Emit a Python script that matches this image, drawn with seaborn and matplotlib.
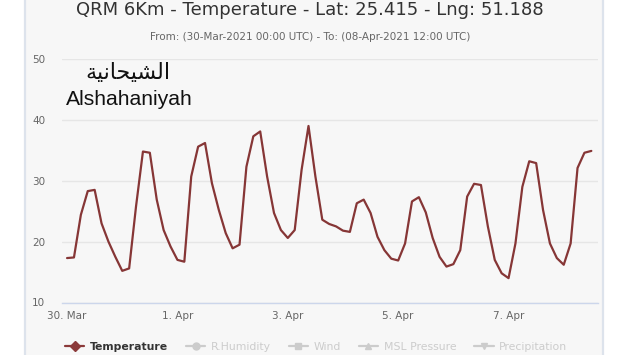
import numpy as np
import pandas as pd
import matplotlib
matplotlib.use("Agg")
import matplotlib.pyplot as plt
import matplotlib.dates as mdates
from matplotlib.lines import Line2D
from matplotlib.patches import Rectangle
import seaborn as sns

# ---------------- data ----------------
start_time = "2021-03-30 00:00"
step = "3h"
temperature = [
    17.3, 17.4, 24.4, 28.3, 28.5, 23.0, 20.0, 17.5, 15.2, 15.6,
    25.8, 34.8, 34.6, 26.9, 21.9, 19.2, 17.0, 16.7, 30.7, 35.6,
    36.2, 29.6, 25.2, 21.4, 18.9, 19.5, 32.3, 37.3, 38.1, 30.7,
    24.7, 21.9, 20.6, 21.9, 31.8, 39.0, 30.7, 23.6, 22.9, 22.5,
    21.8, 21.6, 26.3, 26.9, 24.7, 20.8, 18.6, 17.2, 16.9, 19.7,
    26.6, 27.3, 24.8, 20.6, 17.5, 15.9, 16.3, 18.6, 27.4, 29.5,
    29.3, 22.5, 17.0, 14.8, 14.0, 19.7, 29.0, 33.2, 32.9, 25.2,
    19.7, 17.3, 16.2, 19.7, 32.1, 34.6, 34.9,
]
tick_dates = ["2021-03-30", "2021-04-01", "2021-04-03", "2021-04-05", "2021-04-07"]
tick_labels = ["30. Mar", "1. Apr", "3. Apr", "5. Apr", "7. Apr"]
y_ticks = [10, 20, 30, 40, 50]
legend_names = ["Temperature", "R.Humidity", "Wind", "MSL Pressure", "Precipitation"]
title = "QRM 6Km - Temperature - Lat: 25.415 - Lng: 51.188"
subtitle = "From: (30-Mar-2021 00:00 UTC) - To: (08-Apr-2021 12:00 UTC)"
place_ar = "الشيحانية"
place_en = "Alshahaniyah"

times = pd.date_range(start_time, periods=len(temperature), freq=step)
df = pd.DataFrame({"time": times, "temperature": temperature})

# --------- simple Arabic shaping (matplotlib has no complex text layout) ---------
_forms = {  # isolated, final, initial, medial
    "ا": ("\uFE8D", "\uFE8E", None, None),
    "ل": ("\uFEDD", "\uFEDE", "\uFEDF", "\uFEE0"),
    "ش": ("\uFEB5", "\uFEB6", "\uFEB7", "\uFEB8"),
    "ي": ("\uFEF1", "\uFEF2", "\uFEF3", "\uFEF4"),
    "ح": ("\uFEA1", "\uFEA2", "\uFEA3", "\uFEA4"),
    "ن": ("\uFEE5", "\uFEE6", "\uFEE7", "\uFEE8"),
    "ة": ("\uFE93", "\uFE94", None, None),
}


def shape_arabic(word):
    out = []
    n = len(word)
    for i, ch in enumerate(word):
        f = _forms.get(ch)
        if f is None:
            out.append(ch)
            continue
        join_prev = i > 0 and word[i - 1] in _forms and _forms[word[i - 1]][2] is not None
        join_next = i < n - 1 and f[2] is not None and word[i + 1] in _forms
        if join_prev and join_next:
            out.append(f[3])
        elif join_prev:
            out.append(f[1])
        elif join_next:
            out.append(f[2])
        else:
            out.append(f[0])
    return "".join(reversed(out))


# ---------------- figure ----------------
sns.set_theme(style="white")
plt.rcParams["font.family"] = ["DejaVu Sans"]

fig = plt.figure(figsize=(6.2, 3.55), dpi=100)
fig.patch.set_facecolor("white")
# chart box
fig.patches.append(Rectangle((25 / 620, -0.05), (603 - 25) / 620, 1.1,
                             transform=fig.transFigure, facecolor="#f7f7f7",
                             edgecolor="#dde3ec", linewidth=1.6, zorder=-5))

ax = fig.add_axes([62 / 620, 1 - 302.5 / 355, (598 - 62) / 620, (302.5 - 59) / 355])
ax.set_zorder(2)
ax.set_facecolor("none")

sns.lineplot(data=df, x="time", y="temperature", ax=ax, color="#863636",
             linewidth=1.6, legend=False, solid_joinstyle="round",
             solid_capstyle="round")

ax.set_ylim(10, 50)
ax.set_yticks(y_ticks)
ax.set_yticklabels([str(v) for v in y_ticks], color="#666666", fontsize=7.5)
ax.set_xlim(times[0] - pd.Timedelta(hours=2.2), times[-1] + pd.Timedelta(hours=2.9))
ax.set_xticks(pd.to_datetime(tick_dates))
ax.set_xticklabels(tick_labels, color="#666666", fontsize=7.5)
ax.set_xlabel("")
ax.set_ylabel("")

ax.grid(axis="y", color="#e6e6e6", linewidth=1)
ax.grid(axis="x", visible=False)
ax.set_axisbelow(True)
for s in ["top", "right", "left"]:
    ax.spines[s].set_visible(False)
ax.spines["bottom"].set_color("#ccd6eb")
ax.spines["bottom"].set_linewidth(1)
ax.tick_params(axis="y", length=0, pad=12)
ax.tick_params(axis="x", length=5, width=1, color="#ccd6eb", pad=1)

# titles
fig.text(0.5, 1 - 10 / 355, title, ha="center", va="center", fontsize=13, color="#333333")
fig.text(0.5, 1 - 37 / 355, subtitle, ha="center", va="center", fontsize=7.5, color="#666666")

# place labels
fig.text(128 / 620, 1 - 73 / 355, shape_arabic(place_ar), ha="center", va="center",
         fontsize=16, color="#111111", family=["DejaVu Sans"], zorder=5)
fig.text(129 / 620, 1 - 99 / 355, place_en, ha="center", va="center",
         fontsize=15.2, color="#111111", family=["Liberation Sans", "DejaVu Sans"], zorder=5)

# legend
markers = ["D", "o", "s", "^", "v"]
colors = ["#8b3a3a", "#cccccc", "#cccccc", "#cccccc", "#cccccc"]
handles = [Line2D([0], [0], color=c, marker=m, markersize=5, linewidth=1.6)
           for c, m in zip(colors, markers)]
leg = fig.legend(handles, legend_names, loc="center", ncol=5,
                 bbox_to_anchor=(316 / 620, 1 - 347 / 355), frameon=False,
                 fontsize=7.8, handlelength=1.8, handletextpad=0.5,
                 columnspacing=1.65)
for i, t in enumerate(leg.get_texts()):
    t.set_color("#333333" if i == 0 else "#cccccc")
    if i == 0:
        t.set_fontweight("bold")

fig.savefig("out.png", dpi=100)
